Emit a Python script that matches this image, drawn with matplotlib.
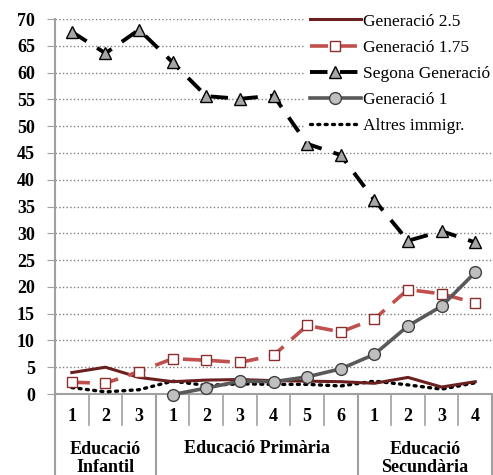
import numpy as np
import matplotlib.pyplot as plt
from matplotlib.transforms import blended_transform_factory

# Dades
cursos = ['1', '2', '3', '1', '2', '3', '4', '5', '6', '1', '2', '3', '4']
etapes = ['Educació\nInfantil', 'Educació Primària', 'Educació\nSecundària']
cursos_per_etapa = [3, 6, 4]

gen_25 = [4.0, 5.0, 3.1, 2.3, 2.6, 2.7, 2.5, 2.4, 2.3, 2.0, 3.1, 1.3, 2.3]
gen_175 = [2.2, 2.0, 4.2, 6.6, 6.3, 5.9, 7.2, 12.8, 11.6, 14.0, 19.5, 18.7, 17.0]
segona = [67.6, 63.6, 68.0, 61.9, 55.6, 55.1, 55.7, 46.7, 44.6, 36.2, 28.6, 30.4, 28.3]
gen_1 = [np.nan, np.nan, np.nan, -0.1, 1.1, 2.4, 2.3, 3.2, 4.7, 7.4, 12.7, 16.4, 22.7]
altres = [1.2, 0.4, 0.8, 2.4, 1.6, 1.9, 1.8, 1.8, 1.5, 2.4, 1.7, 0.9, 2.1]

plt.rcParams['font.family'] = ['Liberation Serif', 'DejaVu Serif']

fig = plt.figure(figsize=(4.93, 4.75), dpi=100)
ax = fig.add_axes([0.1116, 0.1705, 0.8864, 0.7895])

x = np.arange(len(cursos))

ax.plot(x, gen_25, color='#6B2020', lw=2.2, label='Generació 2.5', zorder=4)
ax.plot(x, gen_175, color='#C0504D', lw=2.6, dashes=(5, 3),
        marker='s', ms=7.5, mfc='white', mec='#8B2E2E', mew=1.0,
        label='Generació 1.75', zorder=5, clip_on=False)
ax.plot(x, segona, color='black', lw=2.8, dashes=(4.5, 3.2),
        marker='^', ms=9, mfc='#A6A6A6', mec='black', mew=1.0,
        label='Segona Generació', zorder=5, clip_on=False)
ax.plot(x, gen_1, color='#595959', lw=2.6,
        marker='o', ms=8.5, mfc='#BFBFBF', mec='#404040', mew=1.0,
        label='Generació 1', zorder=6, clip_on=False)
ax.plot(x, altres, color='black', lw=2.4, linestyle=(0, (0.6, 1.6)),
        dash_capstyle='round', label='Altres immigr.', zorder=3)

ax.set_xlim(-0.5, len(cursos) - 0.5)
ax.set_ylim(0, 70)
ax.set_yticks(np.arange(0, 71, 5))
ax.tick_params(axis='y', length=5.5, color='#A0A0A0', labelsize=13, pad=9)
for t in ax.get_yticklabels():
    t.set_fontweight('bold')
ax.set_xticks([])
ax.yaxis.grid(True, linestyle=':', color='#808080', lw=1.0)
ax.set_axisbelow(True)

for s in ['top', 'right']:
    ax.spines[s].set_visible(False)
ax.spines['left'].set_color('#A0A0A0')
ax.spines['left'].set_linewidth(1.5)
ax.spines['left'].set_bounds(0, 70)
ax.spines['bottom'].set_color('#A0A0A0')
ax.spines['bottom'].set_linewidth(1.5)

# etiquetes de l'eix x en dos nivells
tr = blended_transform_factory(ax.transData, ax.transAxes)
for i, c in enumerate(cursos):
    ax.text(i, -0.06, c, transform=tr, ha='center', va='center',
            fontsize=13, fontweight='bold')
limits = np.cumsum([0] + cursos_per_etapa) - 0.5
for i in range(len(cursos) + 1):
    xb = i - 0.5
    if xb in limits:
        ax.plot([xb, xb], [0, -0.23], transform=tr, color='#A0A0A0',
                lw=1.5, clip_on=False)
    else:
        ax.plot([xb, xb], [0, -0.083], transform=tr, color='#A0A0A0',
                lw=1.2, clip_on=False)
for k, et in enumerate(etapes):
    xc = (limits[k] + limits[k + 1]) / 2
    yy = -0.171 if '\n' in et else -0.145
    ax.text(xc, yy, et, transform=tr, ha='center', va='center',
            fontsize=13, fontweight='bold', linespacing=1.08)

leg = ax.legend(loc='upper right', bbox_to_anchor=(1.028, 1.052), fontsize=12.5,
                frameon=True, fancybox=False, edgecolor='white', framealpha=1,
                handlelength=2.9, handletextpad=0.15, labelspacing=0.58,
                borderpad=0.3)

fig.savefig('out.png', dpi=100)
